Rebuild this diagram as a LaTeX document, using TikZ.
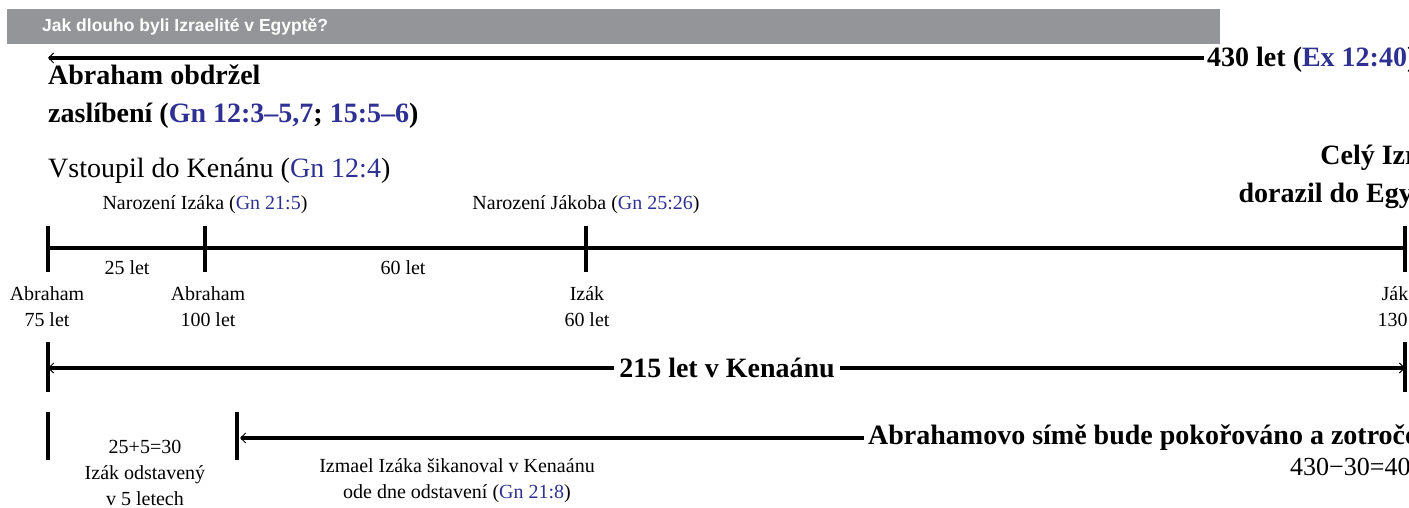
\documentclass[tikz,border=0pt]{standalone}
\usepackage{fontspec}
\setmainfont{Liberation Serif}
\newfontfamily\headfont{Liberation Sans}
\usetikzlibrary{arrows.meta, positioning}
\definecolor{refblue}{RGB}{46,49,146}
\definecolor{bargray}{RGB}{147,149,152}
\newcommand{\vref}[1]{\textcolor{refblue}{#1}}

\begin{document}
\begin{tikzpicture}[x=1pt, y=-1pt,
  axis/.style={line width=3.5pt},
  tickmark/.style={line width=3.5pt},
  span/.style={line width=3.5pt, -{Straight Barb[line width=1pt, length=5pt, width=10pt]}},
  big/.style={font=\fontsize{28}{38}\selectfont\bfseries, inner sep=0pt},
  mid/.style={font=\fontsize{28}{34}\selectfont, inner sep=0pt},
  small/.style={font=\fontsize{20}{26}\selectfont, align=center, inner sep=0pt}]
\useasboundingbox (0,0) rectangle (1409,508);
\clip (0,0) rectangle (1409,508);

% Header
\fill[bargray] (7,9) rectangle (1220,44);
\node[anchor=west, text=white, inner sep=0pt, font=\headfont\bfseries\fontsize{17.5}{20}\selectfont] (title) at (42,27) {Jak dlouho byli Izraelité v Egyptě?};

% 430 years
\node[big, anchor=west, inner xsep=3pt] (total) at (1204,60) {430 let (\vref{Ex 12:40})};
\coordinate (t0) at (48,58);
\draw[span] (total.west |- t0) -- (t0);

% Promise and entry
\node[big, align=left, anchor=west] (promise) at (48,97) {Abraham obdržel\\zaslíbení (\vref{Gn 12:3–5,7}; \vref{15:5–6})};
\node[mid, anchor=west] (enter) at (48,171) {Vstoupil do Kenánu (\vref{Gn 12:4})};
\node[big, align=right, anchor=east] (egypt) at (1452,177) {Celý Izrael\\dorazil do Egypta};

% Timeline
\foreach \n/\x in {a/48, b/205, c/586, d/1405} {
  \coordinate (\n) at (\x,248);
  \draw[tickmark] (\x,226) -- (\x,272);
}
\draw[axis] (a) -- (d);

\node[small] (isaac) at (205,205) {Narození Izáka (\vref{Gn 21:5})};
\node[small] (jacob) at (586,205) {Narození Jákoba (\vref{Gn 25:26})};
\node[small] (y25) at (127,268) {25 let};
\node[small] (y60) at (403,268) {60 let};
\node[small] (age75) at (47,307) {Abraham\\75 let};
\node[small] (age100) at (208,307) {Abraham\\100 let};
\node[small] (age60) at (587,307) {Izák\\60 let};
\node[small] (age130) at (1405,307) {Jákob\\130 let};

% 215 years in Canaan
\draw[tickmark] (48,342) -- (48,392);
\draw[tickmark] (1405,342) -- (1405,392);
\coordinate (k0) at (48,368);
\coordinate (k1) at (1405,368);
\node[big, inner xsep=5pt] (canaan) at (727,368) {215 let v Kenaánu};
\draw[span] (canaan.west) -- (k0);
\draw[span] (canaan.east) -- (k1);

% Oppression
\draw[tickmark] (48,412) -- (48,460);
\draw[tickmark] (237,412) -- (237,460);
\coordinate (w0) at (240,438);
\node[big, anchor=west, inner xsep=4pt] (seed) at (864,438) {Abrahamovo símě bude pokořováno a zotročováno};
\draw[span] (seed.west) -- (w0);
\node[small, anchor=west, font=\fontsize{26}{30}\selectfont] (calc) at (1290,467) {430−30=400};
\node[small] (weaned) at (145,473) {25+5=30\\Izák odstavený\\v 5 letech};
\node[small] (ishmael) at (457,481) {Izmael Izáka šikanoval v Kenaánu\\ode dne odstavení (\vref{Gn 21:8})};
\end{tikzpicture}
\end{document}
